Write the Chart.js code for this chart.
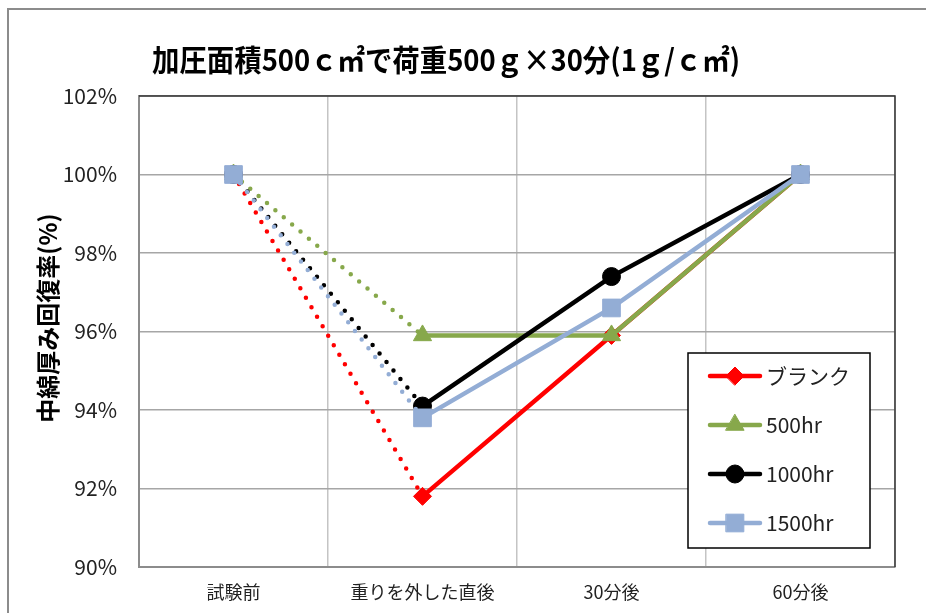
<!DOCTYPE html>
<html>
<head>
<meta charset="utf-8">
<script src="https://cdn.jsdelivr.net/npm/chart.js@4"></script>
<style>
html, body { margin: 0; padding: 0; background: #fff; overflow: hidden; }
#wrap { position: relative; width: 926px; height: 613px; }
#frame { position: absolute; left: 7px; top: 8px; width: 960px; height: 660px; border: 2px solid #8c8c8c; box-sizing: border-box; }
#c { position: absolute; left: 0; top: 0; }
</style>
</head>
<body>
<div id="wrap"><div id="frame"></div><canvas id="c" width="926" height="613"></canvas></div>
<script>
// data
const categories = ["試験前", "重りを外した直後", "30分後", "60分後"];
const blank  = [100, 91.8, 95.9, 100];
const hr500  = [100, 95.9, 95.9, 100];
const hr1000 = [100, 94.1, 97.4, 100];
const hr1500 = [100, 93.8, 96.6, 100];
const yTicks = [90, 92, 94, 96, 98, 100, 102];

const JP = '"Noto Sans CJK JP", "Noto Sans", sans-serif';
const titleText = "加圧面積500ｃ㎡で荷重500ｇ×30分(1ｇ/ｃ㎡)";
const yTitle = "中綿厚み回復率(%)";

// draw text squeezed to a given width (reference uses a narrow font)
function fitText(ctx, txt, x, y, w) {
  const m = ctx.measureText(txt).width;
  const k = Math.min(1, w / m);
  ctx.save();
  ctx.translate(x, y); ctx.scale(k, 1);
  ctx.fillText(txt, 0, 0);
  ctx.restore();
}

// order: last series (1500hr) ends up on top like the reference
const mk = (label, data, color, style, radius, order) => ({
  label, data, order,
  borderColor: color, backgroundColor: color,
  pointBackgroundColor: color, pointBorderColor: color,
  borderWidth: 4.5, borderCapStyle: "round", tension: 0,
  pointStyle: style, pointRadius: radius, pointHoverRadius: radius, pointBorderWidth: 1,
  segment: { borderDash: c => c.p0DataIndex === 0 ? [0, 11] : undefined }
});

const datasets = [
  mk("ブランク", blank, "#ff0000", "rectRot", 9, 4),
  mk("500hr", hr500, "#87a84b", "triangle", 10.5, 3),
  mk("1000hr", hr1000, "#000000", "circle", 9, 2),
  mk("1500hr", hr1500, "#93add5", "rect", 12.5, 1)
];

// title, axis title, plot frame, legend box
const extras = {
  id: "extras",
  beforeDatasetsDraw(chart) {
    const { ctx, chartArea: a } = chart;
    ctx.save();
    ctx.strokeStyle = "#333"; ctx.lineWidth = 1.5;
    ctx.beginPath();
    ctx.moveTo(a.left, a.top); ctx.lineTo(a.right, a.top); ctx.lineTo(a.right, a.bottom);
    ctx.stroke();
    ctx.restore();
  },
  afterDraw(chart) {
    const { ctx } = chart;
    ctx.save();
    ctx.fillStyle = "#000";
    ctx.textAlign = "center"; ctx.textBaseline = "middle";
    ctx.font = "bold 30px " + JP;
    fitText(ctx, titleText, 446, 60, 588);

    ctx.translate(48, 318); ctx.rotate(-Math.PI / 2);
    ctx.font = "bold 24px " + JP;
    fitText(ctx, yTitle, 0, 0, 212);
    ctx.restore();

    // legend
    ctx.save();
    const bx = 688, by = 353, bw = 182, bh = 195;
    ctx.fillStyle = "#fff"; ctx.fillRect(bx, by, bw, bh);
    ctx.strokeStyle = "#000"; ctx.lineWidth = 1.5; ctx.strokeRect(bx, by, bw, bh);
    ctx.font = "normal 21px " + JP; ctx.textBaseline = "middle"; ctx.textAlign = "left";
    chart.data.datasets.forEach((d, i) => {
      const y = by + 23 + i * 49;
      ctx.strokeStyle = d.borderColor; ctx.lineWidth = 4.5; ctx.lineCap = "round";
      ctx.beginPath(); ctx.moveTo(710, y); ctx.lineTo(760, y); ctx.stroke();
      ctx.fillStyle = d.borderColor; ctx.strokeStyle = d.borderColor; ctx.lineWidth = 1;
      Chart.helpers.drawPoint(ctx, { pointStyle: d.pointStyle, radius: d.pointRadius, rotation: 0, borderWidth: 1 }, 735, y);
      ctx.fillStyle = "#222";
      ctx.fillText(d.label, 766, y);
    });
    ctx.restore();
  }
};

new Chart(document.getElementById("c"), {
  type: "line",
  data: { labels: categories, datasets },
  options: {
    responsive: false,
    animation: false,
    layout: { padding: { left: 0, right: 31, top: 96, bottom: 0 } },
    plugins: { legend: { display: false }, title: { display: false }, tooltip: { enabled: false } },
    scales: {
      x: {
        offset: true,
        grid: { offset: true, color: "#c4c4c4", lineWidth: 1.5, drawTicks: false },
        border: { color: "#8c8c8c", width: 2 },
        ticks: { color: "#222", font: { family: JP, size: 18 }, padding: 14, maxRotation: 0, autoSkip: false },
        afterFit: s => { s.height = 46; }
      },
      y: {
        min: 90, max: 102,
        afterBuildTicks: s => { s.ticks = yTicks.map(v => ({ value: v })); },
        grid: { color: "#a6a6a6", lineWidth: 1.5, drawTicks: false },
        border: { color: "#8c8c8c", width: 2 },
        ticks: { color: "#222", font: { family: JP, size: 21 }, padding: 22, callback: v => v + "%" },
        afterFit: s => { s.width = 139; }
      }
    }
  },
  plugins: [extras]
});
</script>
</body>
</html>
